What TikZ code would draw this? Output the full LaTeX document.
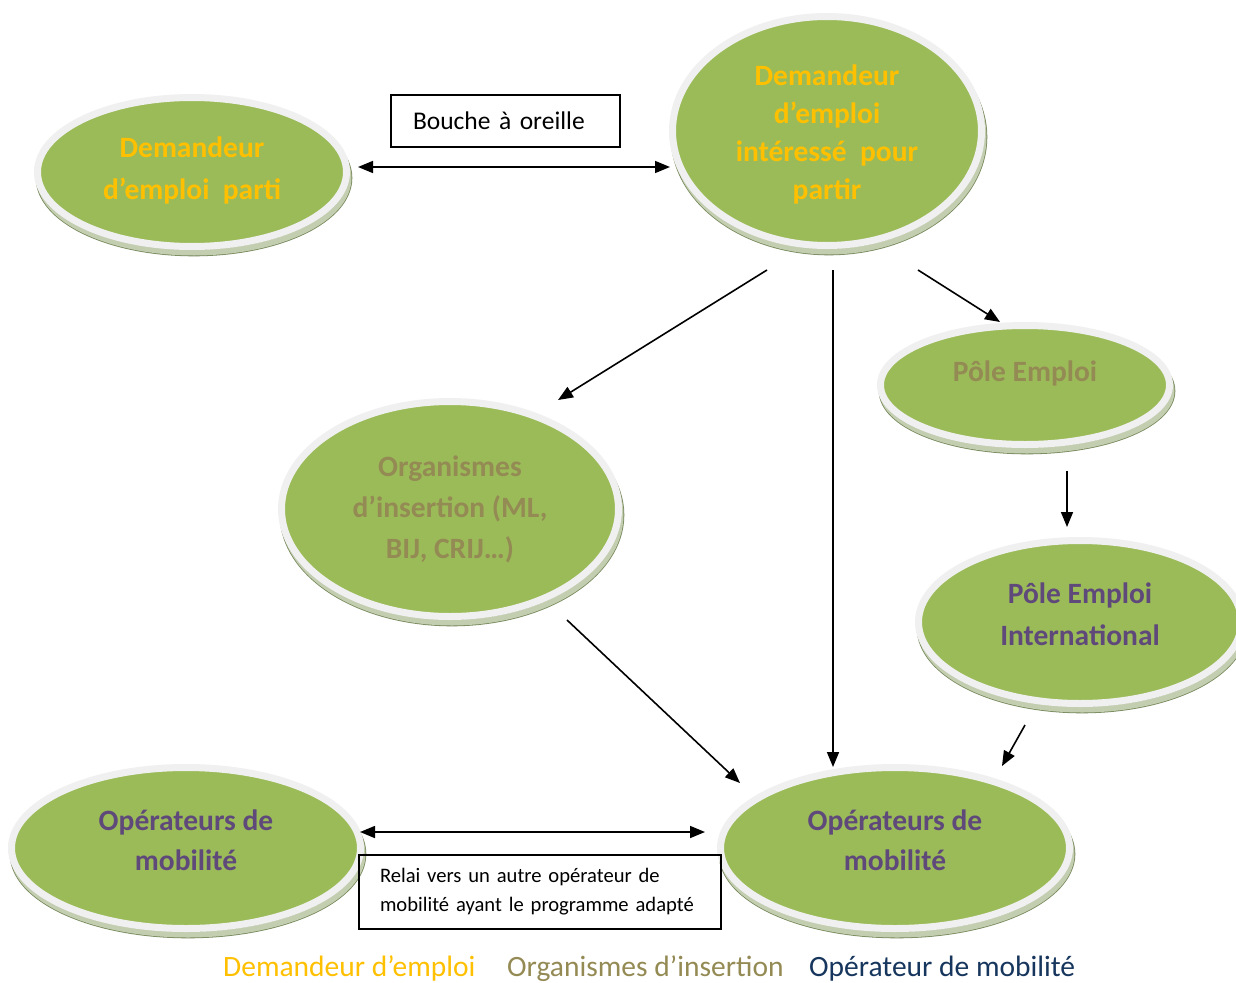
\documentclass[tikz,border=0pt]{standalone}
\usepackage{fontspec}
\setmainfont{Carlito}
\usetikzlibrary{arrows.meta,shapes.geometric}
\definecolor{ellgreen}{HTML}{9BBB59}
\definecolor{rimgray}{HTML}{F0F0F0}
\definecolor{shadowfill}{HTML}{C3CDB0}
\definecolor{shadowline}{HTML}{76885A}
\definecolor{dyellow}{HTML}{FFC000}
\definecolor{olivetxt}{HTML}{948A54}
\definecolor{purptxt}{HTML}{5F497A}
\definecolor{navytxt}{HTML}{17365D}
\begin{document}
\begin{tikzpicture}[x=1pt,y=-1pt,
  bubble/.style={ellipse, fill=ellgreen, draw=rimgray, line width=7pt, align=center,
    inner sep=0pt, font=\bfseries\fontsize{29.5}{40}\selectfont,
    preaction={fill=shadowfill, draw=shadowline, line width=0.8pt, double=shadowfill,
      double distance=6pt, transform canvas={xshift=2pt,yshift=-6pt}}},
  txtbox/.style={draw=black, line width=1.3pt, align=left, inner sep=0pt},
  arr/.style={-{Triangle[length=15pt,width=12pt]}, line width=1.6pt},
  darr/.style={{Triangle[length=15pt,width=12pt]}-{Triangle[length=15pt,width=12pt]}, line width=1.6pt},
  legend/.style={anchor=base west, font=\fontsize{29.5}{32}\selectfont, inner sep=0pt}
]
\useasboundingbox (0,0) rectangle (1236,982);
\fill[white] (0,0) rectangle (1236,982);

% ellipses
\node[bubble, minimum width=309pt, minimum height=149pt, text=dyellow,
  font=\bfseries\fontsize{29.5}{42}\selectfont] (dparti) at (192,172)
  {Demandeur\\d’emploi\ \ parti\\[-34pt]\mbox{}};
\node[bubble, minimum width=309pt, minimum height=229pt, text=dyellow,
  font=\bfseries\fontsize{29.5}{38}\selectfont] (dint) at (827,131)
  {Demandeur\\d’emploi\\intéressé\ \ pour\\partir\\[-40pt]\mbox{}};
\node[bubble, minimum width=289pt, minimum height=119pt, text=olivetxt] (pole) at (1025,385)
  {Pôle Emploi\\[-12pt]\mbox{}};
\node[bubble, minimum width=337pt, minimum height=215pt, text=olivetxt,
  font=\bfseries\fontsize{29.5}{41}\selectfont] (org) at (450,509)
  {Organismes\\d’insertion (ML,\\BIJ, CRIJ…)};
\node[bubble, minimum width=323pt, minimum height=163pt, text=purptxt,
  font=\bfseries\fontsize{29.5}{42}\selectfont] (pei) at (1080,622)
  {Pôle Emploi\\International\\[-26pt]\mbox{}};
\node[bubble, minimum width=349pt, minimum height=161pt, text=purptxt] (opl) at (186,848)
  {Opérateurs de\\mobilité\\[-24pt]\mbox{}};
\node[bubble, minimum width=349pt, minimum height=161pt, text=purptxt] (opr) at (895,848)
  {Opérateurs de\\mobilité\\[-24pt]\mbox{}};

% text boxes
\node[txtbox, minimum width=229pt, minimum height=52pt, text width=185pt,
  font=\fontsize{25.5}{28}\selectfont] (bouche) at (505.5,121) {Bouche à oreille};
\node[txtbox, minimum width=362pt, minimum height=74pt, text width=320pt,
  font=\fontsize{20.6}{29}\selectfont] (relai) at (540,892)
  {Relai vers un autre opérateur de\\mobilité ayant le programme adapté};

% connector end points
\coordinate (a1s) at (358,167);   \coordinate (a1e) at (670,167);
\coordinate (a2s) at (767,270);   \coordinate (a2e) at (558,400);
\coordinate (a3s) at (833,270);   \coordinate (a3e) at (833,767);
\coordinate (a4s) at (918,270);   \coordinate (a4e) at (1000,322);
\coordinate (a5s) at (1067,471);  \coordinate (a5e) at (1067,527);
\coordinate (a6s) at (567,620);   \coordinate (a6e) at (740,783);
\coordinate (a7s) at (1025,725);  \coordinate (a7e) at (1002,766);
\coordinate (a8s) at (360,832);   \coordinate (a8e) at (705,832);

\draw[darr] (a1s) -- (a1e);
\draw[arr] (a2s) -- (a2e);
\draw[arr] (a3s) -- (a3e);
\draw[arr] (a4s) -- (a4e);
\draw[arr] (a5s) -- (a5e);
\draw[arr] (a6s) -- (a6e);
\draw[arr] (a7s) -- (a7e);
\draw[darr] (a8s) -- (a8e);

% legend
\node[legend, text=dyellow] (lg1) at (223,976) {Demandeur d’emploi};
\node[legend, text=olivetxt] (lg2) at (507,976) {Organismes d’insertion};
\node[legend, text=navytxt] (lg3) at (809,976) {Opérateur de mobilité};
\end{tikzpicture}
\end{document}
